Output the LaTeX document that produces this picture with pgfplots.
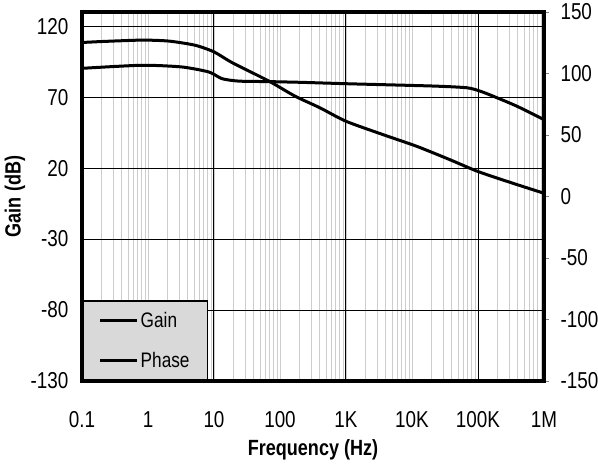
\documentclass[border=0pt]{standalone}
\usepackage{fontspec}
\setmainfont{Liberation Sans}[FakeStretch=0.82]
\usepackage{pgfplots}
\usepackage{pgfplotstable}
\pgfplotsset{compat=1.18}
\definecolor{legfill}{RGB}{217,217,217}
\definecolor{gridgray}{RGB}{205,205,205}

% gain (dB), left axis
\pgfplotstableread{
f g
0.1 108.5
0.2 109.2
0.81 110.2
2.08 109.5
5.15 106.6
10 101.9
18.7 94.4
68 81.3
169 70.7
403 62.5
1000 53.0
3640 43.6
11900 35.3
37700 25.9
100000 17.6
339000 9.3
1000000 2.3
}\gaintable

% phase (deg), right axis
\pgfplotstableread{
f p
0.1 104.2
0.81 106.7
3.27 105.3
8.4 101.2
13.2 95.8
23.9 93.8
68 93.4
215 92.8
1000 91.7
21000 89.8
68000 88.4
107000 85.7
169000 81.6
389000 73.4
1000000 62.5
}\phasetable

\begin{document}
\begin{tikzpicture}
\pgfplotsset{
  every axis/.append style={
    scale only axis, width=462pt, height=369pt,
    xmode=log, xmin=0.1, xmax=1e6,
    axis line style={line width=3.5pt},
    tick label style={font=\fontsize{23}{27}\selectfont},
    label style={font=\bfseries\fontsize{22}{26}\selectfont},
    /pgf/number format/assume math mode=true,
  },
}
\begin{axis}[name=ax,
  ymin=-130, ymax=130,
  ytick={-130,-80,...,120},
  xtick={0.1,1,10,100,1000,10000,100000,1000000},
  xticklabels={0.1,1,10,100,1K,10K,100K,1M},
  xmajorgrids, xminorgrids, ymajorgrids,
  major x grid style={gridgray, line width=0.8pt},
  minor x grid style={gridgray, line width=0.8pt},
  major y grid style={black, line width=1pt},
  extra x ticks={10,1000,100000},
  extra x tick labels={,,},
  extra x tick style={major x grid style={black, line width=1pt}},
  major tick length=0pt, minor tick length=0pt,
  ytick pos=left, xtick pos=bottom,
  yticklabel style={xshift=-10pt},
  xticklabel style={yshift=-27pt},
  xlabel={Frequency (Hz)},
  xlabel style={at={(axis description cs:0.5,0)}, anchor=center, yshift=-69pt},
  ylabel={Gain (dB)},
  ylabel style={at={(axis description cs:0,0.5)}, anchor=center, yshift=67pt},
  legend style={at={(0,0)}, anchor=south west, draw=black, line width=1.5pt,
    fill=legfill, font=\fontsize{21}{25}\selectfont,
    inner xsep=16pt, inner ysep=9pt, row sep=20pt, cells={anchor=west}},
  legend image code/.code={\draw[#1, line width=3pt] (0pt,0pt) -- (37pt,0pt);},
]
\addplot[black, line width=3pt, smooth, tension=0.4] table[x=f, y=g] {\gaintable};
\addlegendentry{Gain}
\addlegendimage{black}
\addlegendentry{Phase}
\end{axis}
\begin{axis}[
  ymin=-150, ymax=150,
  ytick={-150,-100,...,150},
  xtick=\empty,
  ytick pos=right,
  tick align=outside, major tick length=5pt,
  ytick style={gray, line width=0.6pt},
  yticklabel style={xshift=8pt},
]
\addplot[black, line width=3pt, smooth, tension=0.4] table[x=f, y=p] {\phasetable};
\end{axis}
\pgfresetboundingbox
\path[use as bounding box] ([shift={(-82pt,-85pt)}]ax.south west) rectangle ([shift={(54pt,12pt)}]ax.north east);
\end{tikzpicture}
\end{document}
